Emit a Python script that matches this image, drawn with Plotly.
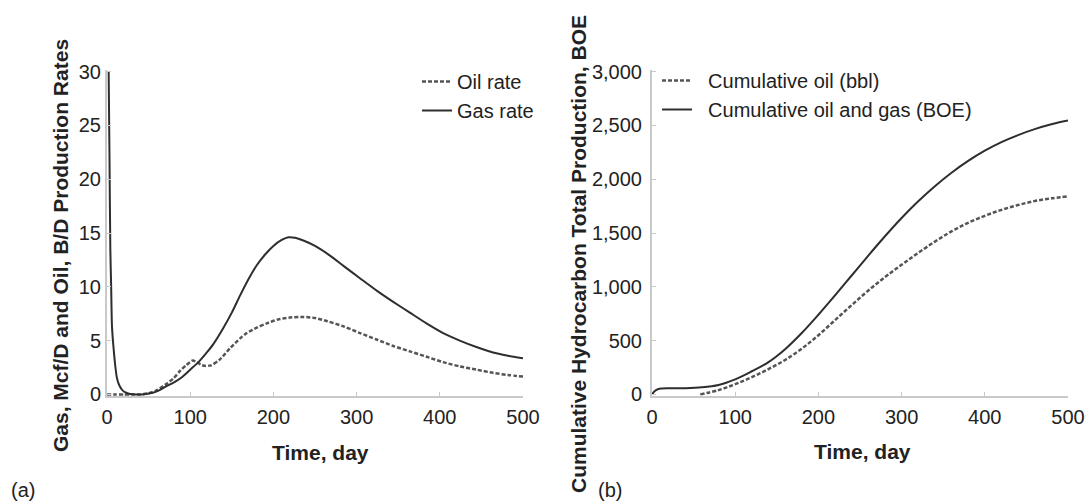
import plotly.graph_objects as go

# ---------------- data ----------------
gas_day = [2, 3, 4, 5, 6, 8, 10, 12, 15, 19, 23, 28, 35, 45, 55, 62, 70, 80, 90, 100,
           110, 120, 128, 140, 150, 160, 170, 180, 190, 200, 210, 218, 226, 236, 250,
           268, 285, 304, 325, 344, 364, 384, 404, 424, 444, 464, 482, 500]
gas_rate = [30, 22, 13.5, 10, 6.3, 4.2, 2.6, 1.5, 0.8, 0.35, 0.15, 0.03, 0.0, 0.02, 0.15, 0.35,
            0.7, 1.1, 1.6, 2.3, 3.0, 3.9, 4.7, 6.2, 7.6, 9.2, 10.7, 12.0, 13.0, 13.8, 14.35,
            14.6, 14.55, 14.3, 13.8, 12.9, 11.9, 10.8, 9.6, 8.6, 7.6, 6.6, 5.7, 5.0, 4.4,
            3.9, 3.6, 3.35]

oil_day = [0, 10, 20, 30, 40, 50, 60, 72, 80, 88, 95, 103, 108, 113, 118, 125, 135, 148,
           160, 168, 180, 192, 205, 220, 236, 250, 265, 285, 304, 324, 344, 364, 384, 404,
           424, 444, 464, 482, 500]
oil_rate = [0, 0, 0, 0, 0, 0.1, 0.4, 1.0, 1.5, 2.2, 2.7, 3.15, 3.0, 2.75, 2.65, 2.7, 3.2,
            4.3, 5.2, 5.7, 6.2, 6.6, 6.95, 7.15, 7.2, 7.1, 6.8, 6.3, 5.7, 5.1, 4.5, 4.0, 3.5,
            3.0, 2.6, 2.3, 2.0, 1.8, 1.65]

boe_day = [0, 3, 7, 12, 20, 40, 60, 80, 100, 120, 140, 160, 180, 200, 220, 240, 260, 280,
           300, 320, 340, 360, 380, 400, 420, 440, 460, 480, 500]
cum_boe = [0, 30, 48, 55, 57, 58, 66, 88, 140, 215, 300, 420, 570, 740, 920, 1105, 1290,
           1470, 1640, 1795, 1935, 2060, 2170, 2265, 2345, 2410, 2465, 2510, 2545]

cumoil_day = [58, 80, 100, 120, 140, 160, 180, 200, 220, 240, 260, 280, 300, 320, 340, 360,
              380, 400, 420, 440, 460, 480, 500]
cum_oil = [0, 40, 95, 160, 235, 320, 425, 550, 690, 830, 965, 1090, 1205, 1315, 1420, 1515,
           1595, 1660, 1715, 1760, 1797, 1822, 1840]

x_ticks = [0, 100, 200, 300, 400, 500]
rate_ticks = [0, 5, 10, 15, 20, 25, 30]
cum_ticks = [0, 500, 1000, 1500, 2000, 2500, 3000]

# ---------------- styling ----------------
FONT = "Arial, Liberation Sans, Helvetica, sans-serif"
AXIS_GRAY = "#c9c9c9"
TXT = "#222222"
W, H = 1086, 502

fig = go.Figure()

fig.add_trace(go.Scatter(x=oil_day, y=oil_rate, name="Oil rate", mode="lines",
                         line=dict(color="#555555", width=2.5, dash="4px,2px", shape="spline", smoothing=0.7),
                         xaxis="x", yaxis="y", legend="legend"))
fig.add_trace(go.Scatter(x=gas_day, y=gas_rate, name="Gas rate", mode="lines",
                         line=dict(color="#2e2e2e", width=2, shape="spline", smoothing=0.7),
                         xaxis="x", yaxis="y", legend="legend"))
fig.add_trace(go.Scatter(x=cumoil_day, y=cum_oil, name="  Cumulative oil (bbl)", mode="lines",
                         line=dict(color="#555555", width=2.5, dash="4px,2px", shape="spline", smoothing=1),
                         xaxis="x2", yaxis="y2", legend="legend2"))
fig.add_trace(go.Scatter(x=boe_day, y=cum_boe, name="  Cumulative oil and gas (BOE)", mode="lines",
                         line=dict(color="#2e2e2e", width=2, shape="spline", smoothing=1),
                         xaxis="x2", yaxis="y2", legend="legend2"))


def px_x(p):
    return p / W


def px_y(p):
    return 1 - p / H


axis_common = dict(showline=True, linecolor=AXIS_GRAY, linewidth=2, showgrid=False,
                   zeroline=False, ticks="inside", ticklen=4, tickwidth=1, tickcolor=AXIS_GRAY,
                   tickfont=dict(family=FONT, size=20, color=TXT), automargin=False)

yd = [px_y(396), px_y(70)]
fig.update_layout(
    width=W, height=H,
    margin=dict(l=0, r=0, t=0, b=0),
    paper_bgcolor="white", plot_bgcolor="white",
    showlegend=True,
    xaxis=dict(domain=[px_x(107), px_x(523)], range=[0, 500], tickvals=x_ticks,
               anchor="y", ticklabelstandoff=2, **axis_common),
    yaxis=dict(domain=yd, range=[-0.15, 30.15], tickvals=rate_ticks, anchor="x",
               ticklabelstandoff=0, **axis_common),
    xaxis2=dict(domain=[px_x(652), px_x(1068)], range=[0, 500], tickvals=x_ticks,
                anchor="y2", ticklabelstandoff=2, **axis_common),
    yaxis2=dict(domain=yd, range=[-15, 3015], tickvals=cum_ticks, tickformat=",", anchor="x2",
                ticklabelstandoff=4, **axis_common),
    legend=dict(x=px_x(417), y=px_y(62), xanchor="left", yanchor="top",
                bgcolor="rgba(0,0,0,0)", borderwidth=0, tracegroupgap=0,
                font=dict(family=FONT, size=20, color=TXT)),
    legend2=dict(x=px_x(657), y=px_y(61), xanchor="left", yanchor="top",
                 bgcolor="rgba(0,0,0,0)", borderwidth=0, tracegroupgap=0,
                 font=dict(family=FONT, size=20, color=TXT)),
)

title_font = dict(family=FONT, size=21, color=TXT)
ann = [
    dict(text="<b>Gas, Mcf/D and Oil, B/D Production Rates</b>", x=px_x(60), y=px_y(246),
         textangle=-90),
    dict(text="<b>Time, day</b>", x=px_x(320), y=px_y(452)),
    dict(text="<b>Cumulative Hydrocarbon Total Production, BOE</b>", x=px_x(578), y=px_y(254),
         textangle=-90),
    dict(text="<b>Time, day</b>", x=px_x(862), y=px_y(451)),
]
for a in ann:
    fig.add_annotation(xref="paper", yref="paper", showarrow=False, font=title_font,
                       xanchor="center", yanchor="middle", **a)

fig.add_annotation(text="(a)", xref="paper", yref="paper", x=px_x(9), y=px_y(490),
                   xanchor="left", yanchor="middle", showarrow=False,
                   font=dict(family=FONT, size=20, color=TXT))
fig.add_annotation(text="(b)", xref="paper", yref="paper", x=px_x(596), y=px_y(490),
                   xanchor="left", yanchor="middle", showarrow=False,
                   font=dict(family=FONT, size=20, color=TXT))

fig.write_html("out.html", config={"displayModeBar": False},
               post_script="document.body.style.margin='0';document.body.style.overflow='hidden';")
